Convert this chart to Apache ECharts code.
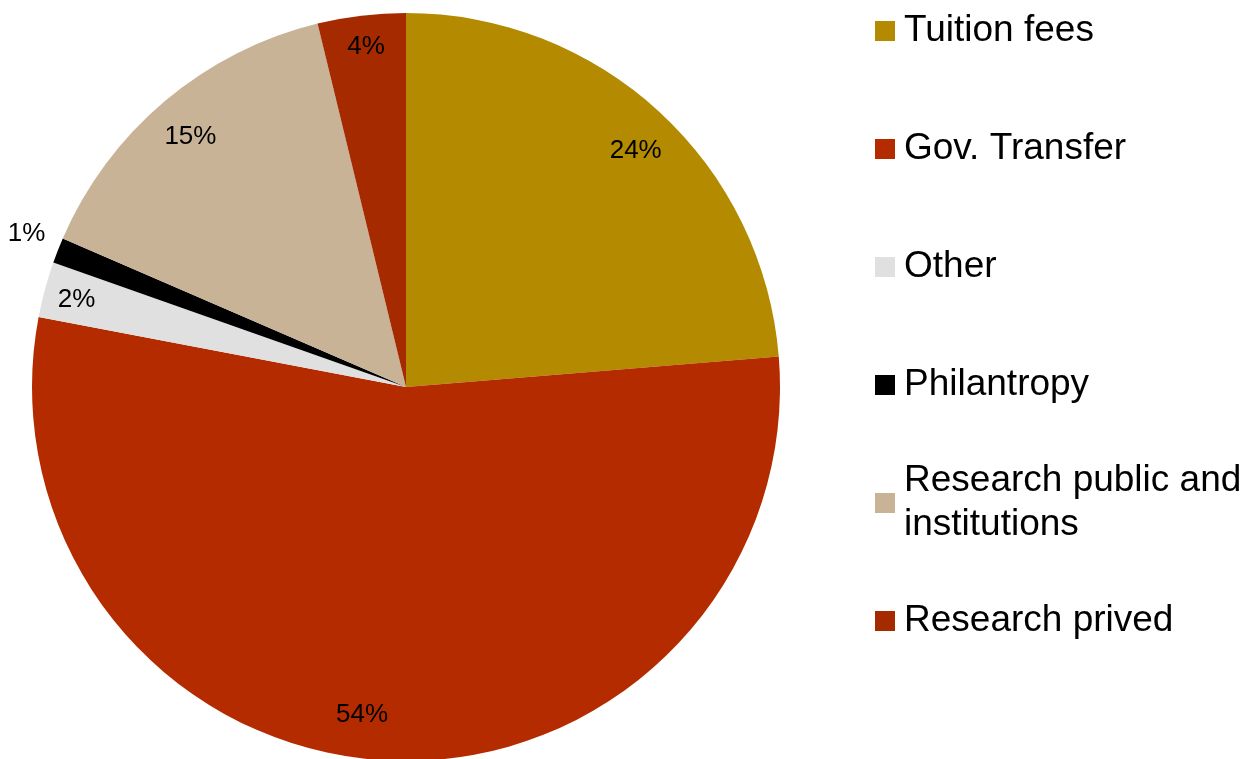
<!DOCTYPE html>
<html>
<head>
<meta charset="utf-8">
<script src="https://cdn.jsdelivr.net/npm/echarts@6/dist/echarts.min.js"></script>
<style>
html,body{margin:0;padding:0;background:#fff;}
#chart{width:1247px;height:759px;}
</style>
</head>
<body>
<div id="chart"></div>
<script>
// Data
const categories = ['Tuition fees', 'Gov. Transfer', 'Other', 'Philantropy', 'Research public and institutions', 'Research prived'];
const legendLabels = ['Tuition fees', 'Gov. Transfer', 'Other', 'Philantropy', 'Research public and\ninstitutions', 'Research prived'];
const values = [23.7, 54.3, 2.4, 1.1, 14.7, 3.8];
const colors = ['#B38A00', '#B52B00', '#E0E0E0', '#000000', '#C8B397', '#A52A00'];

const FONT = '"Liberation Sans", Arial, sans-serif';
const cx = 406, cy = 387, R = 374;

// Label nudges (Excel "best fit" placement)
const labelNudge = [[2, 11], [-26, -8], [-5, 0], [0, -14], [1, 7], [0, -7]];

const mainData = categories.map((n, i) => ({ name: n, value: values[i], itemStyle: { color: colors[i] } }));
const labelData = categories.map((n, i) => {
  const d = { name: n, value: values[i] };
  if (n === 'Philantropy') {
    d.label = { position: 'outside', overflow: 'none', width: 60 };
    d.labelLine = { show: false, length: 8, length2: 0 };
  }
  return d;
});

// Legend: one component per item, icon centres matching the reference
const legendCenters = [31, 149, 267, 385, 503, 621];
const legends = categories.map((n, i) => {
  const twoLine = legendLabels[i].indexOf('\n') >= 0;
  return {
    data: [n],
    orient: 'vertical',
    left: 875,
    top: twoLine ? legendCenters[i] - 66 : legendCenters[i] - 22,
    padding: 0,
    icon: 'rect',
    itemWidth: 20,
    itemHeight: 20,
    selectedMode: false,
    formatter: () => legendLabels[i],
    textStyle: {
      fontFamily: FONT,
      fontSize: 37,
      lineHeight: 44,
      color: '#000',
      padding: twoLine ? [44, 0, 0, 4] : [0, 0, 0, 4]
    }
  };
});

const chart = echarts.init(document.getElementById('chart'));
chart.setOption({
  animation: false,
  backgroundColor: '#fff',
  legend: legends,
  series: [
    {
      type: 'pie',
      center: [cx, cy],
      radius: [0, R],
      startAngle: 90,
      clockwise: true,
      silent: true,
      label: { show: false },
      labelLine: { show: false },
      itemStyle: { borderWidth: 0 },
      emphasis: { disabled: true },
      data: mainData
    },
    {
      type: 'pie',
      center: [cx, cy],
      radius: [292, R],
      startAngle: 90,
      clockwise: true,
      silent: true,
      percentPrecision: 0,
      itemStyle: { color: 'rgba(0,0,0,0)', borderWidth: 0 },
      emphasis: { disabled: true },
      label: {
        show: true,
        position: 'inside',
        formatter: '{d}%',
        fontFamily: FONT,
        fontSize: 26,
        color: '#000'
      },
      labelLine: { show: false },
      labelLayout: function (params) {
        const n = labelNudge[params.dataIndex] || [0, 0];
        return { dx: n[0], dy: n[1] };
      },
      data: labelData
    }
  ]
});
</script>
</body>
</html>
